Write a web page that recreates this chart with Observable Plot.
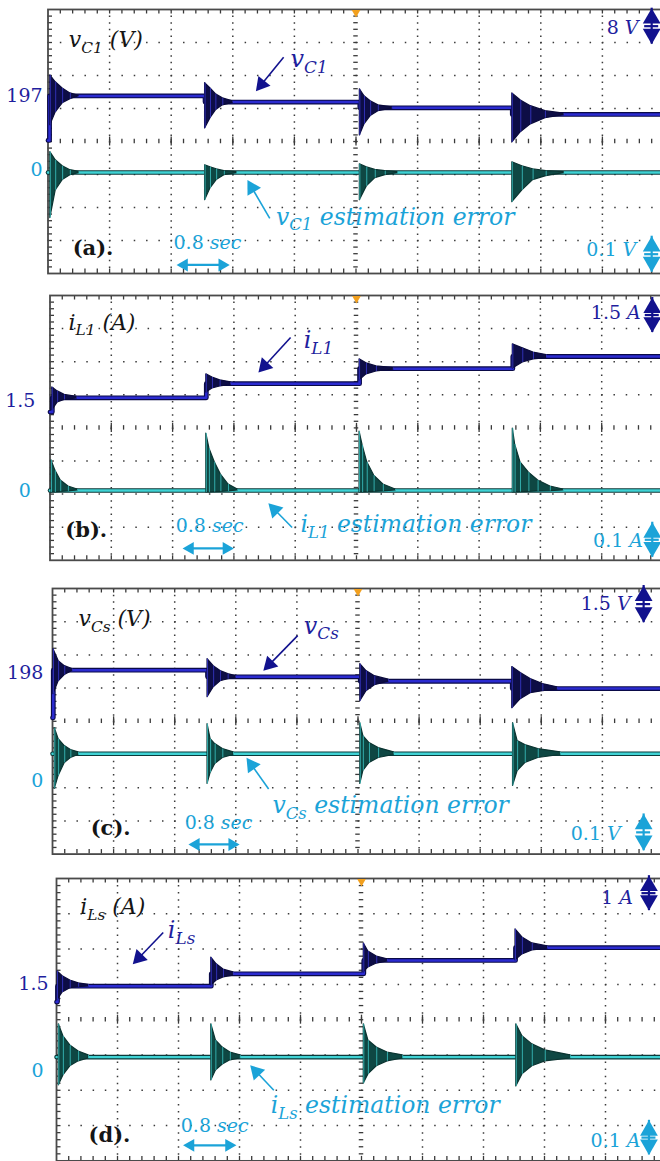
<!DOCTYPE html>
<html><head><meta charset="utf-8">
<script src="https://cdn.jsdelivr.net/npm/d3@7"></script>
<script src="https://cdn.jsdelivr.net/npm/@observablehq/plot@0.6"></script>
<style>
html,body{margin:0;padding:0;background:#fff;}
#root{position:relative;width:660px;height:1161px;overflow:hidden;background:#fff;}
#root svg text{white-space:pre;}
</style></head><body><div id="root"></div>
<script>
// ================= DATA =================
// time in seconds (0.8 s / division), values in channel units
// steps: [t, steady value from t on]; bursts: [t, upper envelope, lower envelope]

// ---- (a) v_C1 (8 V/div) and its estimation error (0.1 V/div)
const vC1Steps = [[0,186.3],[0.02,197.1],[2.04,195.6],[4.05,194.2],[6.03,192.6]];
const vC1Bursts = [
  [[0.03,202.1,190.0],[0.10,200.4,193.1],[0.19,198.9,195.3],[0.29,197.7,196.3],[0.40,197.1,197.0]],
  [[2.04,200.2,189.2],[2.11,198.9,191.7],[2.18,197.5,193.6],[2.27,196.5,194.8],[2.40,195.8,195.4]],
  [[4.05,198.7,187.5],[4.11,197.0,190.2],[4.19,195.8,192.2],[4.29,194.8,193.4],[4.47,194.3,194.0]],
  [[6.03,197.7,185.8],[6.14,196.0,188.3],[6.27,194.6,190.2],[6.46,193.4,191.7],[6.70,192.8,192.4]]
];
const eC1Steps = [[0,0]];
const eC1Bursts = [
  [[0.03,0.062,-0.138],[0.10,0.037,-0.054],[0.19,0.019,-0.023],[0.29,0.007,-0.008],[0.40,0.002,-0.002]],
  [[2.04,0.022,-0.084],[2.11,0.016,-0.048],[2.19,0.010,-0.023],[2.29,0.004,-0.008],[2.45,0.001,-0.002]],
  [[4.05,0.025,-0.084],[4.14,0.016,-0.042],[4.25,0.008,-0.017],[4.38,0.004,-0.008],[4.54,0.001,-0.002]],
  [[6.03,0.031,-0.090],[6.16,0.019,-0.054],[6.30,0.010,-0.023],[6.47,0.004,-0.011],[6.70,0.001,-0.002]]
];

// ---- (b) i_L1 (1.5 A/div) and its estimation error (0.1 A/div)
const iL1Steps = [[0,0.97],[0.03,1.62],[2.04,2.26],[4.04,2.94],[6.04,3.49]];
const iL1Bursts = [
  [[0.03,2.09,1.05],[0.10,1.91,1.41],[0.19,1.75,1.52],[0.35,1.66,1.59]],
  [[2.04,2.68,1.86],[2.12,2.54,2.04],[2.22,2.41,2.13],[2.36,2.32,2.20]],
  [[4.04,3.36,2.41],[4.13,3.18,2.68],[4.26,3.04,2.81],[4.48,2.97,2.90]],
  [[6.04,4.04,2.95],[6.17,3.86,3.22],[6.31,3.67,3.36],[6.48,3.56,3.42]]
];
const eL1Steps = [[0,0]];
const eL1Bursts = [
  [[0.02,0.091,-0.006],[0.07,0.060,-0.006],[0.14,0.030,-0.004],[0.24,0.012,-0.003],[0.36,0.003,0]],
  [[2.04,0.172,-0.006],[2.08,0.127,-0.006],[2.15,0.085,-0.005],[2.23,0.048,-0.004],[2.33,0.018,-0.003],[2.45,0.003,0]],
  [[4.04,0.178,-0.006],[4.08,0.136,-0.006],[4.14,0.085,-0.005],[4.23,0.045,-0.004],[4.35,0.018,-0.003],[4.51,0.003,0]],
  [[6.04,0.187,-0.006],[6.07,0.139,-0.006],[6.14,0.085,-0.005],[6.25,0.054,-0.004],[6.37,0.030,-0.003],[6.53,0.012,-0.002],[6.70,0.003,0]]
];

// ---- (c) v_Cs (1.5 V/div) and its estimation error (0.1 V/div)
const vCsSteps = [[0,195.97],[0.01,198.12],[2.03,197.82],[4.03,197.62],[6.02,197.29]];
const vCsBursts = [
  [[0.013,199.07,197.04],[0.08,198.53,197.62],[0.16,198.30,197.90],[0.26,198.17,198.08]],
  [[2.03,198.62,196.90],[2.11,198.30,197.35],[2.20,198.08,197.62],[2.30,197.94,197.71],[2.40,197.85,197.78]],
  [[4.03,198.39,196.72],[4.11,198.08,197.17],[4.22,197.85,197.44],[4.40,197.69,197.60]],
  [[6.02,198.26,196.40],[6.13,197.99,196.81],[6.26,197.72,197.08],[6.42,197.49,197.17],[6.61,197.35,197.24]]
];
const eCsSteps = [[0,0]];
const eCsBursts = [
  [[0.03,0.077,-0.106],[0.08,0.044,-0.067],[0.16,0.023,-0.028],[0.24,0.011,-0.013],[0.34,0.004,-0.004]],
  [[2.03,0.089,-0.091],[2.07,0.044,-0.058],[2.13,0.029,-0.031],[2.23,0.014,-0.013],[2.37,0.004,-0.004]],
  [[4.03,0.092,-0.091],[4.07,0.053,-0.052],[4.15,0.032,-0.028],[4.27,0.017,-0.013],[4.47,0.004,-0.004]],
  [[6.03,0.092,-0.097],[6.09,0.038,-0.052],[6.19,0.026,-0.028],[6.36,0.014,-0.013],[6.65,0.004,-0.004]]
];

// ---- (d) i_Ls (1 A/div) and its estimation error (0.1 A/div)
const iLsSteps = [[0,1.0],[0.013,1.45],[2.03,1.80],[4.03,2.18],[6.02,2.54]];
const iLsBursts = [
  [[0.013,1.87,1.05],[0.08,1.73,1.27],[0.18,1.61,1.39],[0.29,1.53,1.42],[0.42,1.49,1.44]],
  [[2.03,2.26,1.47],[2.10,2.07,1.61],[2.19,1.92,1.70],[2.32,1.84,1.75]],
  [[4.03,2.66,1.84],[4.09,2.43,1.98],[4.20,2.29,2.09],[4.34,2.21,2.15]],
  [[6.02,3.06,2.18],[6.11,2.83,2.35],[6.24,2.66,2.46],[6.44,2.58,2.51]]
];
const eLsSteps = [[0,0]];
const eLsBursts = [
  [[0.03,0.093,-0.080],[0.09,0.059,-0.052],[0.18,0.033,-0.026],[0.29,0.016,-0.012],[0.42,0.005,-0.004]],
  [[2.03,0.093,-0.066],[2.09,0.047,-0.038],[2.18,0.027,-0.021],[2.28,0.013,-0.009],[2.41,0.005,-0.004]],
  [[4.03,0.093,-0.075],[4.09,0.047,-0.049],[4.20,0.027,-0.026],[4.34,0.013,-0.012],[4.54,0.005,-0.004]],
  [[6.03,0.093,-0.083],[6.11,0.059,-0.049],[6.24,0.036,-0.026],[6.41,0.019,-0.012],[6.74,0.005,-0.004]]
];

// ---- texts (t in s, y in screen divisions)
const textsA = [
  {s:"v_{C1} (V)", t:0.27, y:3.07, k:"title", a:"start"},
  {s:"v_{C1}", t:3.15, y:2.49, k:"main", a:"start"},
  {s:"v_{C1} estimation error", t:2.96, y:-2.29, k:"err", a:"start"},
  {s:"(a).", t:0.32, y:-3.23, k:"tag", a:"start"},
  {s:"0.8 *sec*", t:1.63, y:-3.08, k:"errN", a:"start"},
  {s:"8 *V*", t:7.67, y:3.43, k:"mainN", a:"end"},
  {s:"0.1 *V*", t:7.64, y:-3.29, k:"errN", a:"end"},
  {s:"197", t:-0.07, y:1.37, k:"mainN", a:"end"},
  {s:"0", t:-0.07, y:-0.87, k:"errN", a:"end"}
];
const textsB = [
  {s:"i_{L1} (A)", t:0.24, y:3.18, k:"title", a:"start"},
  {s:"i_{L1}", t:3.31, y:2.64, k:"main", a:"start"},
  {s:"i_{L1} estimation error", t:3.27, y:-2.92, k:"err", a:"start"},
  {s:"(b).", t:0.20, y:-3.10, k:"tag", a:"start"},
  {s:"0.8 *sec*", t:1.64, y:-2.95, k:"errN", a:"start"},
  {s:"1.5 *A*", t:7.71, y:3.48, k:"mainN", a:"end"},
  {s:"0.1 *A*", t:7.74, y:-3.40, k:"errN", a:"end"},
  {s:"1.5", t:-0.19, y:0.83, k:"mainN", a:"end"},
  {s:"0", t:-0.25, y:-1.89, k:"errN", a:"end"}
];
const textsC = [
  {s:"v_{Cs} (V)", t:0.34, y:3.08, k:"title", a:"start"},
  {s:"v_{Cs}", t:3.29, y:2.87, k:"main", a:"start"},
  {s:"v_{Cs} estimation error", t:2.88, y:-2.55, k:"err", a:"start"},
  {s:"(c).", t:0.50, y:-3.22, k:"tag", a:"start"},
  {s:"0.8 *sec*", t:1.73, y:-3.07, k:"errN", a:"start"},
  {s:"1.5 *V*", t:7.57, y:3.54, k:"mainN", a:"end"},
  {s:"0.1 *V*", t:7.44, y:-3.39, k:"errN", a:"end"},
  {s:"198", t:-0.12, y:1.46, k:"mainN", a:"end"},
  {s:"0", t:-0.12, y:-1.80, k:"errN", a:"end"}
];
const textsD = [
  {s:"i_{Ls} (A)", t:0.31, y:3.19, k:"title", a:"start"},
  {s:"i_{Ls}", t:1.46, y:2.53, k:"main", a:"start"},
  {s:"i_{Ls} estimation error", t:2.81, y:-2.44, k:"err", a:"start"},
  {s:"(d).", t:0.42, y:-3.28, k:"tag", a:"start"},
  {s:"0.8 *sec*", t:1.63, y:-3.00, k:"errN", a:"start"},
  {s:"1 *A*", t:7.56, y:3.46, k:"mainN", a:"end"},
  {s:"0.1 *A*", t:7.66, y:-3.43, k:"errN", a:"end"},
  {s:"1.5", t:-0.105, y:1.0, k:"mainN", a:"end"},
  {s:"0", t:-0.17, y:-1.44, k:"errN", a:"end"}
];
// pointer arrows (tail -> tip)
const arrowsA = [{t1:3.06,y1:2.55,t2:2.70,y2:1.52,k:"main"},{t1:2.88,y1:-2.33,t2:2.59,y2:-1.17,k:"err"}];
const arrowsB = [{t1:3.14,y1:2.73,t2:2.72,y2:1.67,k:"main"},{t1:3.16,y1:-3.01,t2:2.85,y2:-2.28,k:"err"}];
const arrowsC = [{t1:3.21,y1:2.58,t2:2.76,y2:1.52,k:"main"},{t1:2.83,y1:-2.04,t2:2.54,y2:-1.10,k:"err"}];
const arrowsD = [{t1:1.40,y1:2.47,t2:1.00,y2:1.57,k:"main"},{t1:2.85,y1:-2.00,t2:2.54,y2:-1.29,k:"err"}];
// 0.8 s span arrows
const spanA = {t1:1.67,t2:2.36,y:-3.74};
const spanB = {t1:1.73,t2:2.40,y:-3.64};
const spanC = {t1:1.78,t2:2.45,y:-3.71};
const spanD = {t1:1.66,t2:2.36,y:-3.56};
// volts/amps-per-division arrows
const scalesA = [{t:7.84,y1:4.04,y2:2.95,k:"main"},{t:7.84,y1:-2.87,y2:-3.96,k:"err"}];
const scalesB = [{t:7.86,y1:3.94,y2:2.88,k:"main"},{t:7.86,y1:-2.85,y2:-3.91,k:"err"}];
const scalesC = [{t:7.74,y1:4.09,y2:2.97,k:"main"},{t:7.74,y1:-2.79,y2:-3.90,k:"err"}];
const scalesD = [{t:7.77,y1:4.08,y2:3.09,k:"main"},{t:7.77,y1:-2.85,y2:-3.83,k:"err"}];

// ================= LAYOUT / STYLE =================
const NAVY = "#1f1f9e", CYAN = "#1ba3d8", NAVY_AR = "#12128e";
const panels = [
  {top:9.3, left:47.5, divW:61.6, divH:33.0, main:{ref:197,pos:1.37,perDiv:8}, err:{ref:0,pos:-0.94,perDiv:0.1},
   ms:vC1Steps, mb:vC1Bursts, es:eC1Steps, eb:eC1Bursts, texts:textsA, arrows:arrowsA, span:spanA, scales:scalesA},
  {top:295, left:49.5, divW:61.3, divH:33.1, main:{ref:1.5,pos:0.83,perDiv:1.5}, err:{ref:0,pos:-1.89,perDiv:0.1},
   ms:iL1Steps, mb:iL1Bursts, es:eL1Steps, eb:eL1Bursts, texts:textsB, arrows:arrowsB, span:spanB, scales:scalesB},
  {top:587.5, left:52, divW:61.1, divH:33.2, main:{ref:198,pos:1.46,perDiv:1.5}, err:{ref:0,pos:-0.976,perDiv:0.1},
   ms:vCsSteps, mb:vCsBursts, es:eCsSteps, eb:eCsBursts, texts:textsC, arrows:arrowsC, span:spanC, scales:scalesC},
  {top:878, left:56, divW:61.0, divH:35.3, main:{ref:1.5,pos:1.0,perDiv:1}, err:{ref:0,pos:-1.06,perDiv:0.1},
   ms:iLsSteps, mb:iLsBursts, es:eLsSteps, eb:eLsBursts, texts:textsD, arrows:arrowsD, span:spanD, scales:scalesD}
];
const textStyle = {
  title:{fill:"#151515", fontSize:22, fontStyle:"italic"},
  main:{fill:NAVY, fontSize:24, fontStyle:"italic"},
  err:{fill:CYAN, fontSize:23.5, fontStyle:"italic"},
  tag:{fill:"#151515", fontSize:21, fontWeight:"bold"},
  mainN:{fill:NAVY, fontSize:19},
  errN:{fill:CYAN, fontSize:19}
};

function triBack(r){ return 2*Math.sqrt(Math.PI*r*r/(3*Math.sqrt(3))); }

function buildPanel(P) {
  const W = 680, mT = 12, mB = 8;
  const pxT = P.divW/0.8, pxY = P.divH;
  const toM = v => P.main.pos + (v - P.main.ref)/P.main.perDiv;
  const toE = v => P.err.pos + (v - P.err.ref)/P.err.perDiv;
  const ext = s => s.concat([[8, s[s.length-1][1]]]);
  const majorT = d3.range(1,10).map(i => i*0.8);
  const minorT = d3.range(1,50).map(i => i*0.16);
  const minorY = d3.range(-19,20).map(i => i*0.2);
  const tkT = 4.5/pxT, tkY = 4.5/pxY;
  const G = "#3a3a3a";
  const marks = [
    Plot.ruleX(majorT.filter(t => Math.abs(t-4) > 1e-6), {x:d=>d, stroke:G, strokeWidth:1.5, strokeDasharray:`1.5 ${pxY/5-1.5}`}),
    Plot.ruleY([-3,-2,-1,1,2,3], {y:d=>d, stroke:G, strokeWidth:1.5, strokeDasharray:`1.5 ${P.divW/5-1.5}`}),
    Plot.ruleY(minorY, {y:d=>d, x1:()=>4-tkT/2, x2:()=>4+tkT/2, stroke:G, strokeWidth:1.3}),
    Plot.ruleX(minorT, {x:d=>d, y1:()=>-tkY/2, y2:()=>tkY/2, stroke:G, strokeWidth:1.3}),
    Plot.ruleX(majorT, {x:d=>d, y1:()=>-tkY, y2:()=>tkY, stroke:G, strokeWidth:1.3}),
    Plot.ruleY(minorY, {y:d=>d, x1:()=>0, x2:()=>tkT, stroke:G, strokeWidth:1.3}),
    Plot.ruleX(minorT, {x:d=>d, y1:()=>4, y2:()=>4-tkY, stroke:G, strokeWidth:1.3}),
    Plot.ruleX(minorT, {x:d=>d, y1:()=>-4, y2:()=>-4+tkY, stroke:G, strokeWidth:1.3}),
    Plot.frame({stroke:"#4a4a4a", strokeWidth:1.8}),
    Plot.dot([4], {x:d=>d, y:()=>4, symbol:"triangle", rotate:180, r:3.2, dy:3, fill:"#f2a01e"})
  ];
  // main trace
  marks.push(Plot.line(ext(P.ms), {x:d=>d[0], y:d=>toM(d[1]), curve:"step-after", stroke:"#0a0a48", strokeWidth:4.8}));
  marks.push(Plot.line(ext(P.ms), {x:d=>d[0], y:d=>toM(d[1]), curve:"step-after", stroke:"#2b2bd0", strokeWidth:2.5}));
  for (const b of P.mb) {
    marks.push(Plot.areaY(b, {x:d=>d[0], y1:d=>toM(d[2]), y2:d=>toM(d[1]), curve:"linear", fill:"#0d0d46", stroke:"#0a0a3a", strokeWidth:1.2}));
    marks.push(Plot.ruleX(b, {x:d=>d[0], y1:d=>toM(d[2]), y2:d=>toM(d[1]), stroke:"#3a3ad0", strokeWidth:1, strokeOpacity:0.8}));
  }
  // error trace
  marks.push(Plot.line(ext(P.es), {x:d=>d[0], y:d=>toE(d[1]), curve:"step-after", stroke:"#0b3a3a", strokeWidth:4.6}));
  marks.push(Plot.line(ext(P.es), {x:d=>d[0], y:d=>toE(d[1]), curve:"step-after", stroke:"#3fd2d4", strokeWidth:2.4}));
  for (const b of P.eb) {
    marks.push(Plot.areaY(b, {x:d=>d[0], y1:d=>toE(d[2]), y2:d=>toE(d[1]), curve:"linear", fill:"#0e4743", stroke:"#0a3330", strokeWidth:1.2}));
    marks.push(Plot.ruleX(b, {x:d=>d[0], y1:d=>toE(d[2]), y2:d=>toE(d[1]), stroke:"#3cc6c6", strokeWidth:1, strokeOpacity:0.8}));
  }
  // pointer arrows
  for (const a of P.arrows) {
    const col = a.k === "main" ? NAVY_AR : CYAN;
    const sx = (a.t2-a.t1)*pxT, sy = -(a.y2-a.y1)*pxY, L = Math.hypot(sx, sy);
    const ux = sx/L, uy = sy/L, r = 5.8, back = triBack(r);
    const rot = Math.atan2(ux, -uy)*180/Math.PI;
    const ct = a.t2 - back*ux/pxT, cy = a.y2 + back*uy/pxY;
    marks.push(Plot.link([a], {x1:"t1", y1:"y1", x2:()=>ct, y2:()=>cy, stroke:col, strokeWidth:1.6}));
    marks.push(Plot.dot([a], {x:()=>ct, y:()=>cy, symbol:"triangle", rotate:rot, r, fill:col}));
  }
  // span arrow (0.8 s)
  {
    const s = P.span, r = 4.8, back = triBack(r)/pxT;
    marks.push(Plot.link([s], {x1:d=>d.t1+back, x2:d=>d.t2-back, y1:"y", y2:"y", stroke:CYAN, strokeWidth:2.2}));
    marks.push(Plot.dot([s], {x:d=>d.t1+back, y:"y", symbol:"triangle", rotate:-90, r, fill:CYAN}));
    marks.push(Plot.dot([s], {x:d=>d.t2-back, y:"y", symbol:"triangle", rotate:90, r, fill:CYAN}));
  }
  // scale arrows
  for (const s of P.scales) {
    const col = s.k === "main" ? NAVY_AR : CYAN, r = 6.6, back = triBack(r)/pxY;
    marks.push(Plot.ruleX([s], {x:"t", y1:"y1", y2:"y2", stroke:col, strokeWidth:2.2}));
    marks.push(Plot.dot([s], {x:"t", y:d=>d.y1-back, symbol:"triangle", rotate:0, r, fill:col}));
    marks.push(Plot.dot([s], {x:"t", y:d=>d.y2+back, symbol:"triangle", rotate:180, r, fill:col}));
    marks.push(Plot.ruleY([s], {y:d=>(d.y1+d.y2)/2, x1:d=>d.t-7/pxT, x2:d=>d.t+7/pxT, stroke:col, strokeWidth:2.2}));
  }
  // texts
  for (const tx of P.texts) {
    marks.push(Plot.text([tx], {x:"t", y:"y", text:"s", textAnchor:tx.a, lineAnchor:"middle",
      fontFamily:"DejaVu Serif", ...textStyle[tx.k]}));
  }
  const svg = Plot.plot({
    width: W, height: mT + 8*P.divH + mB,
    marginLeft: P.left, marginRight: W - P.left - 10*P.divW, marginTop: mT, marginBottom: mB,
    x: {domain:[0,8], axis:null},
    y: {domain:[-4,4], axis:null},
    style: {background:"transparent", fontFamily:"DejaVu Serif", overflow:"visible"},
    marks
  });
  svg.style.position = "absolute";
  svg.style.left = "0px";
  svg.style.top = (P.top - mT) + "px";
  svg.style.maxWidth = "none";
  richText(svg);
  return svg;
}

function richText(svg) {
  const NS = "http://www.w3.org/2000/svg";
  svg.querySelectorAll("text").forEach(el => {
    const raw = el.textContent;
    if (!/[_*]/.test(raw)) return;
    const tokens = raw.match(/_\{[^}]*\}|\*[^*]*\*|[^_*]+/g) || [];
    el.textContent = "";
    let shifted = false;
    for (const tok of tokens) {
      const ts = document.createElementNS(NS, "tspan");
      if (tok.startsWith("_{")) {
        ts.textContent = tok.slice(2, -1);
        ts.setAttribute("font-size", "70%");
        ts.setAttribute("dy", "5.5");
        shifted = true;
      } else {
        const it = tok.startsWith("*");
        ts.textContent = it ? tok.slice(1, -1) : tok;
        if (it) ts.setAttribute("font-style", "italic");
        if (shifted) { ts.setAttribute("dy", "-5.5"); shifted = false; }
      }
      el.appendChild(ts);
    }
  });
}

const root = document.getElementById("root");
for (const P of panels) root.appendChild(buildPanel(P));
</script>
</body></html>
